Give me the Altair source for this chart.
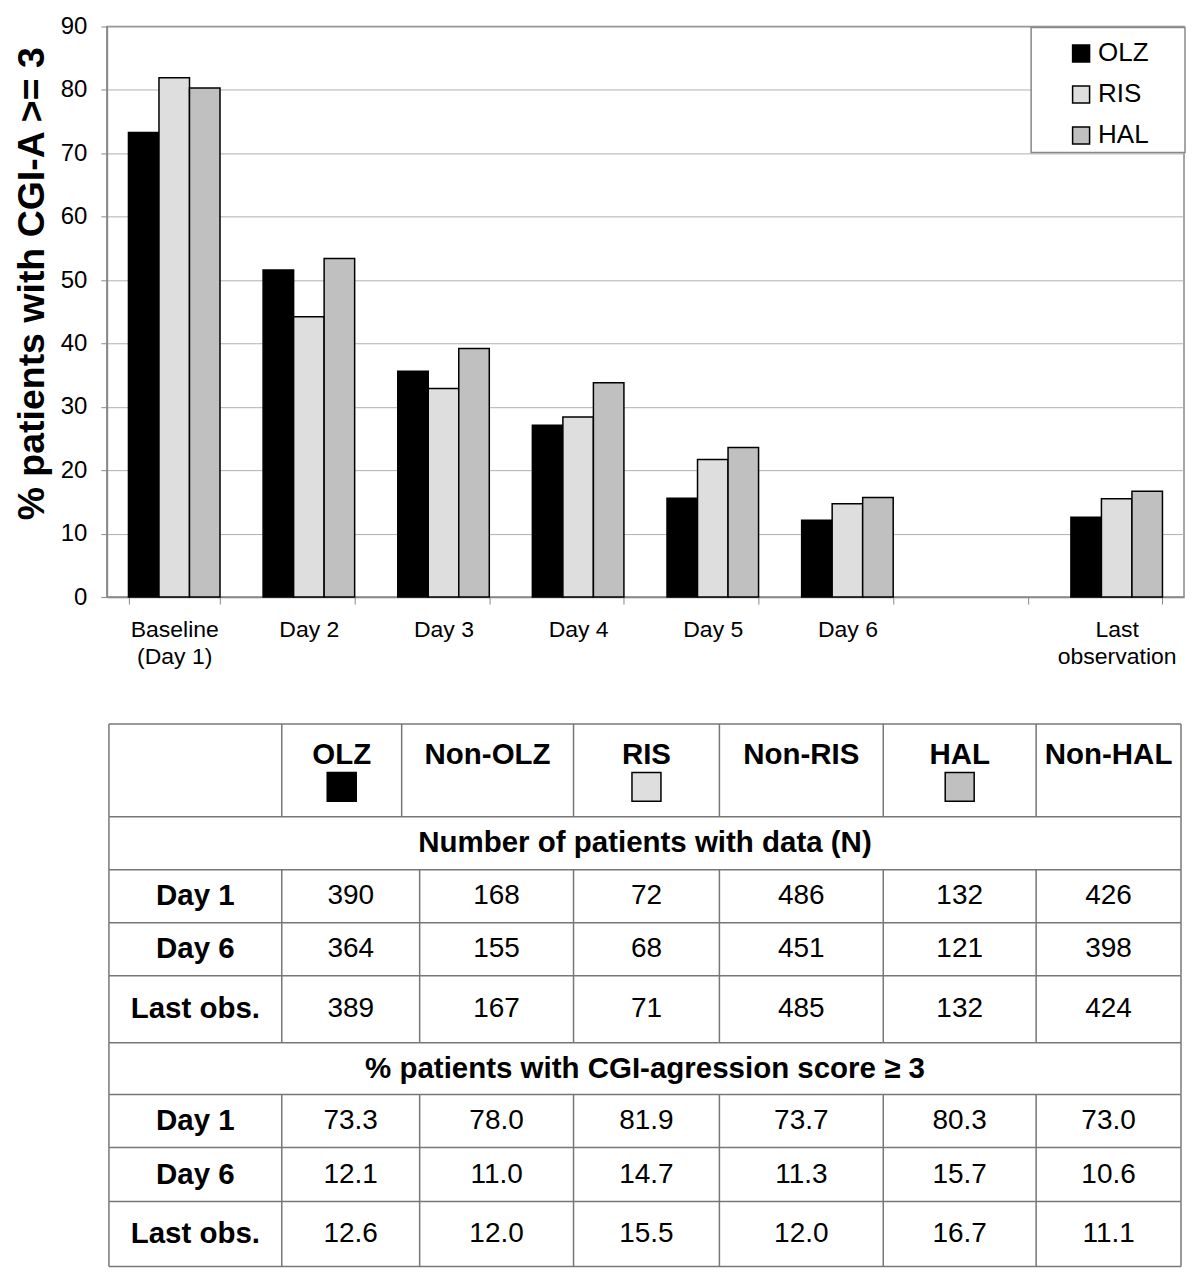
import altair as alt
import pandas as pd

# ---------------- data ----------------
categories = ["Baseline\n(Day 1)", "Day 2", "Day 3", "Day 4", "Day 5", "Day 6", " ", "Last\nobservation"]
groups = ["OLZ", "RIS", "HAL"]
olz = [73.3, 51.6, 35.6, 27.1, 15.6, 12.1, None, 12.6]
ris = [81.9, 44.2, 32.9, 28.4, 21.7, 14.7, None, 15.5]
hal = [80.3, 53.4, 39.2, 33.8, 23.6, 15.7, None, 16.7]
group_colors = ["#000000", "#dedede", "#c0c0c0"]
y_ticks = [0, 10, 20, 30, 40, 50, 60, 70, 80, 90]

table_cols = ["OLZ", "Non-OLZ", "RIS", "Non-RIS", "HAL", "Non-HAL"]
swatch_cols = ["OLZ", "RIS", "HAL"]
row_labels = ["Day 1", "Day 6", "Last obs."]
n_title = "Number of patients with data (N)"
pct_title = "% patients with CGI-agression score ≥ 3"
n_day1 = ["390", "168", "72", "486", "132", "426"]
n_day6 = ["364", "155", "68", "451", "121", "398"]
n_last = ["389", "167", "71", "485", "132", "424"]
pct_day1 = ["73.3", "78.0", "81.9", "73.7", "80.3", "73.0"]
pct_day6 = ["12.1", "11.0", "14.7", "11.3", "15.7", "10.6"]
pct_last = ["12.6", "12.0", "15.5", "12.0", "16.7", "11.1"]

FONT = "Liberation Sans"
PW, PH = 1078, 571

# ---------------- bar chart ----------------
rows = []
for i, c in enumerate(categories):
    for g, vals in zip(groups, [olz, ris, hal]):
        if vals[i] is not None:
            rows.append({"cat": c, "group": g, "value": vals[i]})
bars_df = pd.DataFrame(rows)

color_scale = alt.Scale(domain=groups, range=group_colors)

bars = alt.Chart(bars_df).mark_bar(stroke="black", strokeWidth=1.5).encode(
    x=alt.X("cat:N", sort=categories,
            scale=alt.Scale(domain=categories, paddingInner=0.32, paddingOuter=0.16),
            axis=alt.Axis(title=None, labelAngle=0, labelExpr="split(datum.label, '\\n')",
                          tickBand="extent", tickSize=7, tickColor="#888", domainColor="#888",
                          domainWidth=1.5, labelFontSize=23, labelColor="black", labelFont=FONT,
                          labelPadding=14, labelLineHeight=28, grid=False)),
    xOffset=alt.XOffset("group:N", sort=groups,
                        scale=alt.Scale(domain=groups, paddingInner=0, paddingOuter=0)),
    y=alt.Y("value:Q", scale=alt.Scale(domain=[0, 90], nice=False),
            axis=alt.Axis(values=y_ticks, title="% patients with CGI-A >= 3",
                          titleFontSize=37.5, titleFontWeight="bold", titleFont=FONT,
                          titleColor="black", titlePadding=8.5, titleY=257,
                          grid=True, gridColor="#b0b0b0", gridWidth=1,
                          tickColor="#888", tickSize=6, domainColor="#888", domainWidth=1.5,
                          labelFontSize=24, labelColor="black", labelFont=FONT, labelPadding=14)),
    color=alt.Color("group:N", sort=groups, scale=color_scale,
                    legend=alt.Legend(title=None, orient="none", legendX=925, legendY=2,
                                      symbolType="square", symbolSize=289,
                                      symbolStrokeColor="black", symbolStrokeWidth=1.5,
                                      labelFontSize=26, labelFont=FONT, labelColor="black",
                                      padding=12, symbolOffset=25, labelOffset=4,
                                      rowPadding=15)),
)

# white, grey-framed box behind the legend entries
legend_box = alt.Chart(pd.DataFrame({"k": [0]})).mark_rect(
    fill="white", stroke="#888", strokeWidth=1.5).encode(
    x=alt.value(925), x2=alt.value(PW + 1), y=alt.value(1), y2=alt.value(126))

top = alt.layer(bars, legend_box).properties(width=PW, height=PH)

# ---------------- table ----------------
col_w = [173, 138, 154, 146, 164, 153, 145]
head_col_w = [173, 120, 172, 146, 164, 153, 145]
row_h = [93, 53, 53, 53, 67, 52, 53, 54, 65]


def edges(ws):
    out = [0]
    for w in ws:
        out.append(out[-1] + w)
    return out


xe = edges(col_w)
hxe = edges(head_col_w)
ye = edges(row_h)
TW = xe[-1]
TH = ye[-1]
X0 = -2  # table starts slightly right of the plot's left edge

lines = []
for y in ye:
    lines.append({"x": 0, "x2": TW, "y": y, "y2": y})
for x in hxe:
    lines.append({"x": x, "x2": x, "y": ye[0], "y2": ye[1]})
for r in [2, 3, 4, 6, 7, 8]:
    for x in xe:
        lines.append({"x": x, "x2": x, "y": ye[r], "y2": ye[r + 1]})
for r in [1, 5]:
    for x in [0, TW]:
        lines.append({"x": x, "x2": x, "y": ye[r], "y2": ye[r + 1]})
lines_df = pd.DataFrame(lines)

texts = []
for j, name in enumerate(table_cols):
    texts.append({"t": name, "x": (hxe[j + 1] + hxe[j + 2]) / 2, "y": ye[0] + 31, "w": "bold"})
texts.append({"t": n_title, "x": TW / 2, "y": (ye[1] + ye[2]) / 2, "w": "bold"})
texts.append({"t": pct_title, "x": TW / 2, "y": (ye[5] + ye[6]) / 2, "w": "bold"})
for block, start in [((n_day1, n_day6, n_last), 2), ((pct_day1, pct_day6, pct_last), 6)]:
    for k, vals in enumerate(block):
        r = start + k
        yc = (ye[r] + ye[r + 1]) / 2
        texts.append({"t": row_labels[k], "x": (xe[0] + xe[1]) / 2, "y": yc, "w": "bold"})
        for j, v in enumerate(vals):
            texts.append({"t": v, "x": (xe[j + 1] + xe[j + 2]) / 2, "y": yc, "w": "normal"})
texts_df = pd.DataFrame(texts)

sw = []
for g in swatch_cols:
    j = table_cols.index(g)
    sw.append({"group": g, "x": (hxe[j + 1] + hxe[j + 2]) / 2, "y": ye[0] + 63})
sw_df = pd.DataFrame(sw)

xs = alt.Scale(domain=[X0, TW], nice=False, zero=False)
ys = alt.Scale(domain=[0, TH], nice=False, zero=False, reverse=True)

t_lines = alt.Chart(lines_df).mark_rule(color="#777", strokeWidth=1.5).encode(
    x=alt.X("x:Q", scale=xs, axis=None), x2="x2:Q",
    y=alt.Y("y:Q", scale=ys, axis=None), y2="y2:Q")

t_bold = alt.Chart(texts_df).transform_filter("datum.w == 'bold'").mark_text(
    font=FONT, fontSize=29.5, fontWeight="bold", color="black", baseline="middle").encode(
    x=alt.X("x:Q", scale=xs, axis=None), y=alt.Y("y:Q", scale=ys, axis=None), text="t:N")

t_norm = alt.Chart(texts_df).transform_filter("datum.w == 'normal'").mark_text(
    font=FONT, fontSize=28, color="black", baseline="middle").encode(
    x=alt.X("x:Q", scale=xs, axis=None), y=alt.Y("y:Q", scale=ys, axis=None), text="t:N")

t_sw = alt.Chart(sw_df).mark_square(size=841, stroke="black", strokeWidth=1.5, opacity=1).encode(
    x=alt.X("x:Q", scale=xs, axis=None), y=alt.Y("y:Q", scale=ys, axis=None),
    color=alt.Color("group:N", scale=color_scale, legend=None))

table = alt.layer(t_lines, t_sw, t_bold, t_norm).properties(
    width=TW - X0, height=TH, view=alt.ViewBackground(stroke=None))

chart = alt.vconcat(top, table, spacing=53).configure(
    padding={"top": 5, "left": 5, "right": 5, "bottom": 5}
).configure_view(stroke="#888", strokeWidth=1.5)

chart.save("out.html", embed_options={"renderer": "svg", "actions": False})
